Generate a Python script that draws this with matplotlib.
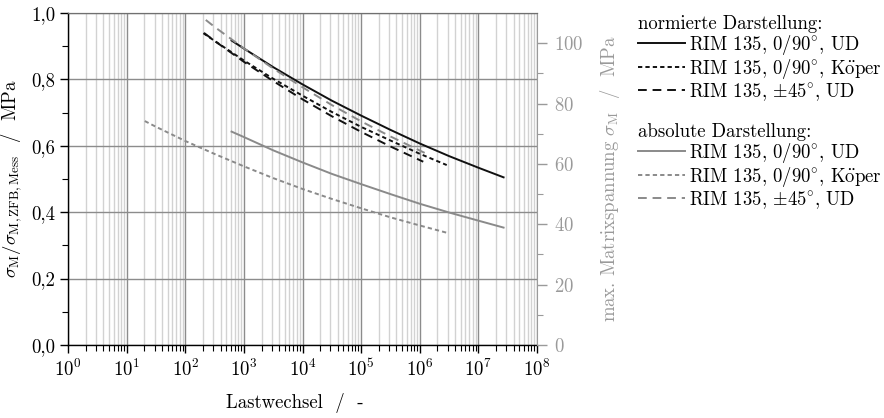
import numpy as np
import matplotlib
matplotlib.use("Agg")
import matplotlib.pyplot as plt
from matplotlib.ticker import FixedLocator, FuncFormatter, LogLocator, NullFormatter
from matplotlib.lines import Line2D

plt.rcParams['font.family'] = ['cmr10', 'DejaVu Serif']
plt.rcParams['mathtext.fontset'] = 'cm'
plt.rcParams['axes.formatter.use_mathtext'] = True
plt.rcParams['axes.unicode_minus'] = False

# ---- data ----
# normalized (left axis)
ud_norm_logN = [2.79, 3.0, 3.5, 4.0, 4.5, 5.0, 5.5, 6.0, 6.5, 7.0, 7.43]
ud_norm_val = [0.917, 0.893, 0.837, 0.785, 0.736, 0.691, 0.648, 0.607, 0.569, 0.534, 0.505]

koeper_norm_logN = [2.31, 2.5, 3.0, 3.5, 4.0, 4.5, 5.0, 5.5, 6.0, 6.46]
koeper_norm_val = [0.939, 0.916, 0.857, 0.802, 0.751, 0.702, 0.657, 0.616, 0.576, 0.542]

pm45_norm_logN = [2.32, 2.5, 3.0, 3.5, 4.0, 4.5, 5.0, 5.5, 6.06]
pm45_norm_val = [0.940, 0.916, 0.853, 0.795, 0.740, 0.689, 0.642, 0.598, 0.552]

# absolute (right axis, MPa)
ud_abs_logN = [2.79, 3.0, 3.5, 4.0, 4.5, 5.0, 5.5, 6.0, 6.5, 7.0, 7.43]
ud_abs_val = [70.7, 68.9, 64.5, 60.5, 56.7, 53.3, 50.0, 46.8, 43.9, 41.2, 38.9]

koeper_abs_logN = [1.31, 1.5, 2.0, 2.5, 3.0, 3.5, 4.0, 4.5, 5.0, 5.5, 6.0, 6.46]
koeper_abs_val = [74.2, 72.3, 67.6, 63.3, 59.2, 55.3, 51.7, 48.4, 45.3, 42.3, 39.6, 37.2]

pm45_abs_logN = [2.35, 2.5, 3.0, 3.5, 4.0, 4.5, 5.0, 5.5, 6.09]
pm45_abs_val = [107.7, 105.4, 98.3, 91.6, 85.4, 79.5, 74.1, 69.1, 63.6]

legend_labels = [r"RIM 135, 0/90$^{\circ}$, UD",
                 r"RIM 135, 0/90$^{\circ}$, K$\mathrm{\ddot{o}}$per",
                 r"RIM 135, $\pm$45$^{\circ}$, UD"]

FS = 13.5

# ---- figure ----
fig = plt.figure(figsize=(8.84, 4.18), dpi=100)
ax = fig.add_axes([68/884, 1-345/418, (537-68)/884, (345-13)/418])
ax2 = ax.twinx()

black = "#111111"
gray = "#8a8a8a"
axgray = "#9a9a9a"
lw = 1.4

dot_dash = (0, (2.2, 1.6))
long_dash = (0, (4.5, 3.0))

def N(l):
    return 10 ** np.asarray(l, dtype=float)

ax.plot(N(ud_norm_logN), ud_norm_val, color=black, lw=lw, ls='-', zorder=5)
ax.plot(N(koeper_norm_logN), koeper_norm_val, color=black, lw=lw, ls=dot_dash, zorder=5)
ax.plot(N(pm45_norm_logN), pm45_norm_val, color=black, lw=lw, ls=long_dash, zorder=5)

ax2.plot(N(ud_abs_logN), ud_abs_val, color=gray, lw=lw, ls='-', zorder=4)
ax2.plot(N(koeper_abs_logN), koeper_abs_val, color=gray, lw=lw, ls=dot_dash, zorder=4)
ax2.plot(N(pm45_abs_logN), pm45_abs_val, color=gray, lw=lw, ls=long_dash, zorder=4)

ax.set_xscale('log')
ax.set_xlim(1, 1e8)
ax.set_ylim(0, 1.0)
ax2.set_ylim(0, 110)

ax.xaxis.set_major_locator(LogLocator(base=10, numticks=20))
ax.xaxis.set_minor_locator(LogLocator(base=10, subs=np.arange(2, 10), numticks=100))
ax.xaxis.set_minor_formatter(NullFormatter())

ax.yaxis.set_major_locator(FixedLocator([0, 0.2, 0.4, 0.6, 0.8, 1.0]))
ax.yaxis.set_minor_locator(FixedLocator([0.1, 0.3, 0.5, 0.7, 0.9]))
ax.yaxis.set_major_formatter(FuncFormatter(lambda v, p: f"{v:.1f}".replace('.', ',')))

ax2.yaxis.set_major_locator(FixedLocator([0, 20, 40, 60, 80, 100]))
ax2.yaxis.set_minor_locator(FixedLocator([10, 30, 50, 70, 90]))

ax.grid(True, which='major', axis='both', color='#8c8c8c', lw=1.0, zorder=0)
ax.grid(True, which='minor', axis='x', color='#d2d2d2', lw=1.0, zorder=0)
ax.set_axisbelow(True)

ax.tick_params(axis='both', which='major', direction='out', length=6, width=1.0,
               labelsize=FS, colors='black')
ax.tick_params(axis='both', which='minor', direction='out', length=4, width=0.8)
ax.tick_params(axis='x', pad=4)
ax.tick_params(axis='y', pad=3)
ax2.tick_params(axis='y', which='major', direction='out', length=7, width=1.0,
                labelsize=FS, colors=axgray, pad=5)
ax2.tick_params(axis='y', which='minor', direction='out', length=4, width=0.8, colors=axgray)

for s in ['left', 'bottom']:
    ax.spines[s].set_color('black')
    ax.spines[s].set_linewidth(1.0)
ax.spines['top'].set_color('#707070')
ax2.spines['top'].set_color('#707070')
ax2.spines['right'].set_color(axgray)
ax.spines['right'].set_visible(False)
ax2.spines['left'].set_visible(False)
ax2.spines['bottom'].set_visible(False)

for a in (ax, ax2):
    a.xaxis.get_offset_text().set_visible(False)
    a.yaxis.get_offset_text().set_visible(False)

ax.set_xlabel("Lastwechsel  /  -", fontsize=FS, labelpad=10)
ax.xaxis.set_label_coords(0.483, -0.145)
ax.set_ylabel(r"$\sigma_{\mathrm{M}}/\sigma_{\mathrm{M,ZFB,Mess}}$  /  MPa", fontsize=FS, labelpad=5)
ax2.set_ylabel(r"max. Matrixspannung $\sigma_{\mathrm{M}}$  /  MPa", fontsize=FS,
               color=axgray, labelpad=11)

# ---- legends ----
h_norm = [Line2D([], [], color=black, lw=lw, ls=ls) for ls in ['-', dot_dash, long_dash]]
h_abs = [Line2D([], [], color=gray, lw=lw, ls=ls) for ls in ['-', dot_dash, long_dash]]

leg_kw = dict(loc='upper left', frameon=False, fontsize=FS, title_fontsize=FS,
              handlelength=2.5, handletextpad=0.2, labelspacing=0.0,
              alignment='left', borderpad=0, borderaxespad=0)
l1 = fig.legend(h_norm, legend_labels, title="normierte Darstellung:",
                bbox_to_anchor=(638/884, 1-15/418), **leg_kw)
l2 = fig.legend(h_abs, legend_labels, title="absolute Darstellung:",
                bbox_to_anchor=(638/884, 1-123/418), **leg_kw)

fig.savefig("out.png", dpi=100)
